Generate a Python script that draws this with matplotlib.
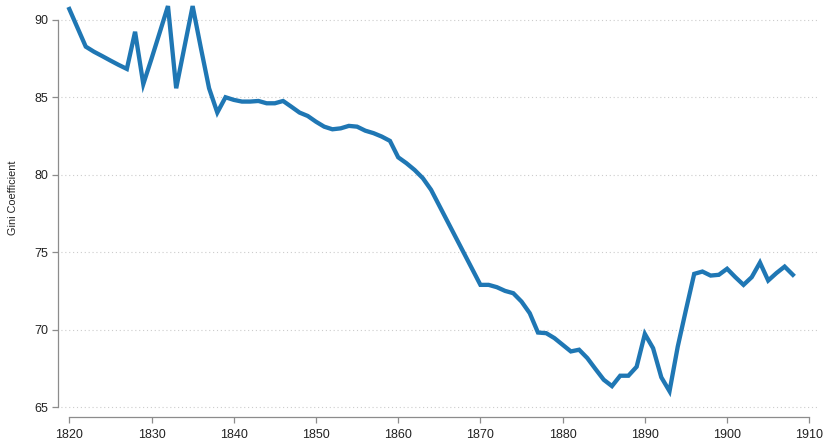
import matplotlib.pyplot as plt

plt.rcParams['font.family'] = ['Liberation Sans', 'DejaVu Sans']

# Gini coefficient by year
years = [1820, 1822, 1823, 1824, 1825, 1826, 1827, 1828, 1829, 1830, 1831, 1832, 1833, 1834,
         1835, 1836, 1837, 1838, 1839, 1840, 1841, 1842, 1843, 1844, 1845, 1846, 1847, 1848,
         1849, 1850, 1851, 1852, 1853, 1854, 1855, 1856, 1857, 1858, 1859, 1860, 1861, 1862,
         1863, 1864, 1870, 1871, 1872, 1873, 1874, 1875, 1876, 1877, 1878, 1879, 1880, 1881,
         1882, 1883, 1884, 1885, 1886, 1887, 1888, 1889, 1890, 1891, 1892, 1893, 1894, 1895,
         1896, 1897, 1898, 1899, 1900, 1901, 1902, 1903, 1904, 1905, 1906, 1907, 1908]
gini = [90.71, 88.28, 87.95, 87.67, 87.38, 87.10, 86.84, 89.24, 85.86, 87.50, 89.20, 90.90,
        85.59, 88.25, 90.90, 88.20, 85.59, 84.02, 85.01, 84.84, 84.73, 84.73, 84.77, 84.62,
        84.62, 84.77, 84.40, 84.02, 83.80, 83.43, 83.11, 82.94, 83.00, 83.16, 83.11, 82.85,
        82.69, 82.47, 82.19, 81.13, 80.75, 80.31, 79.78, 79.03, 72.89, 72.89, 72.74, 72.50,
        72.35, 71.81, 71.06, 69.81, 69.77, 69.45, 69.02, 68.59, 68.70, 68.16, 67.45, 66.76,
        66.35, 67.02, 67.02, 67.60, 69.72, 68.80, 66.92, 66.02, 68.90, 71.28, 73.60, 73.75,
        73.49, 73.54, 73.93, 73.39, 72.89, 73.39, 74.33, 73.17, 73.65, 74.07, 73.54]

x_ticks = [1820, 1830, 1840, 1850, 1860, 1870, 1880, 1890, 1900, 1910]
y_ticks = [65, 70, 75, 80, 85, 90]

fig = plt.figure(figsize=(8.27, 4.42), dpi=100)
ax = fig.add_axes([69.3 / 827, 35 / 442, 740 / 827, 387 / 442])

# dotted horizontal grid, running from the y axis to the right edge
for v in y_ticks:
    ax.axhline(v, xmin=-0.016, xmax=1.012, color='#cccccc', lw=0.8,
               linestyle=(0, (1, 2.5)), clip_on=False, zorder=1)

ax.plot(years, gini, color='#1f77b4', lw=3.1, solid_joinstyle='miter',
        clip_on=False, zorder=3)

ax.set_xlim(1820, 1910)
ax.set_ylim(65, 90)
ax.set_xticks(x_ticks)
ax.set_yticks(y_ticks)

for side in ['top', 'right']:
    ax.spines[side].set_visible(False)
ax.spines['left'].set_position(('outward', 8.1))
ax.spines['bottom'].set_position(('outward', 7))
for side in ['left', 'bottom']:
    ax.spines[side].set_color('#8c8c8c')
    ax.spines[side].set_linewidth(0.9)

ax.tick_params(axis='both', direction='out', length=4.3, width=0.9, color='#8c8c8c',
               labelsize=9, labelcolor='#222222')
ax.tick_params(axis='x', pad=4.8)
ax.tick_params(axis='y', pad=2.5)

ax.set_ylabel('Gini Coefficient', fontsize=7.8, color='#222222')
ax.yaxis.set_label_coords(-0.069, 0.54)

fig.savefig('out.png', dpi=100)
